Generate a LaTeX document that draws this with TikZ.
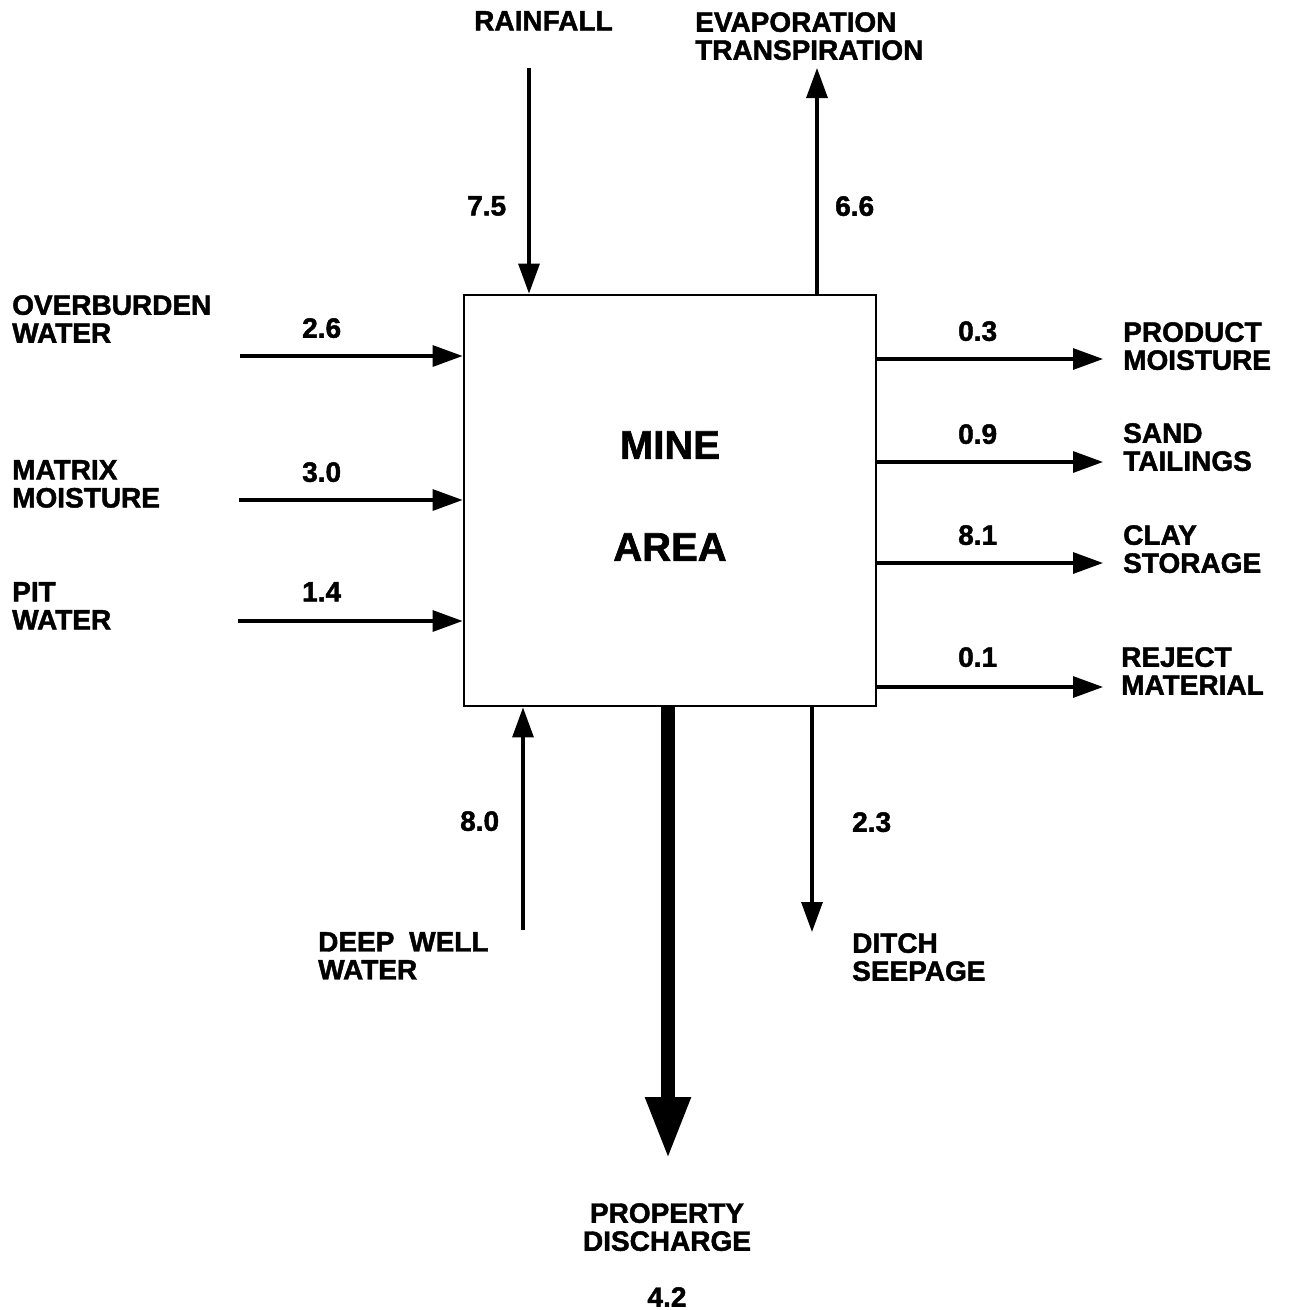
\documentclass[tikz,border=0pt]{standalone}
\usepackage{fontspec}
\setmainfont{Liberation Sans}[BoldFeatures={FakeBold=1.6}]
\usetikzlibrary{arrows.meta}
\tikzset{
  lbl/.style={font=\fontsize{28}{28}\selectfont\bfseries, inner sep=0pt, anchor=north west, align=left},
  num/.style={font=\fontsize{28}{28}\selectfont\bfseries, inner sep=0pt, anchor=north west},
  flow/.style={line width=3.2pt, -{Triangle[length=30pt,width=21pt]}},
  bigflow/.style={line width=14pt, -{Triangle[length=62pt,width=42pt]}},
  minebox/.style={draw, line width=2.8pt, minimum width=412pt, minimum height=411pt, inner sep=0pt}
}
\begin{document}
\begin{tikzpicture}[x=1pt,y=-1pt]
\useasboundingbox[fill=white] (0,0) rectangle (1291,1310);
% central box
\node[minebox] (box) at (670,500.5) {};
\node[font=\fontsize{40}{102}\selectfont\bfseries, align=center, inner sep=0pt] (boxtext) at (670,496) {MINE\\AREA};

% left inflows
\coordinate (obS) at (240,356);
\coordinate (mmS) at (239,500);
\coordinate (pwS) at (238,621);
\draw[flow] (obS) -- (obS -| box.west);
\draw[flow] (mmS) -- (mmS -| box.west);
\draw[flow] (pwS) -- (pwS -| box.west);
\node[lbl] (ob) at (12,295) {OVERBURDEN\\WATER};
\node[lbl] (mm) at (12,460) {MATRIX\\MOISTURE};
\node[lbl] (pw) at (12,582) {PIT\\WATER};
\node[num] (obn) at (302,318) {2.6};
\node[num] (mmn) at (302,462) {3.0};
\node[num] (pwn) at (302,582) {1.4};

% top
\coordinate (rfS) at (529,68);
\coordinate (evE) at (817,68);
\draw[flow] (rfS) -- (rfS |- box.north);
\draw[flow] (evE |- box.north) -- (evE);
\node[lbl] (rf) at (474,11) {RAINFALL};
\node[lbl] (ev) at (695,12) {EVAPORATION\\TRANSPIRATION};
\node[num] (rfn) at (467,196) {7.5};
\node[num] (evn) at (835,196) {6.6};

% right outflows
\coordinate (pmE) at (1103,359);
\coordinate (stE) at (1103,462);
\coordinate (csE) at (1103,563);
\coordinate (rmE) at (1103,687);
\draw[flow] (pmE -| box.east) -- (pmE);
\draw[flow] (stE -| box.east) -- (stE);
\draw[flow] (csE -| box.east) -- (csE);
\draw[flow] (rmE -| box.east) -- (rmE);
\node[num] (pmn) at (958,321) {0.3};
\node[num] (stn) at (958,424) {0.9};
\node[num] (csn) at (958,525) {8.1};
\node[num] (rmn) at (958,647) {0.1};
\node[lbl] (pm) at (1123,322) {PRODUCT\\MOISTURE};
\node[lbl] (st) at (1123,423) {SAND\\TAILINGS};
\node[lbl] (cs) at (1123,525) {CLAY\\STORAGE};
\node[lbl] (rm) at (1121,647) {REJECT\\MATERIAL};

% bottom
\coordinate (dwS) at (523,930);
\coordinate (dsE) at (812,932);
\coordinate (pdE) at (668,1159);
\draw[flow] (dwS) -- (dwS |- box.south);
\draw[flow] (dsE |- box.south) -- (dsE);
\draw[bigflow] (pdE |- box.south) -- (pdE);
\node[num] (dwn) at (460,811) {8.0};
\node[num] (dsn) at (852,812) {2.3};
\node[lbl] (dw) at (318,932) {DEEP\hspace{0.25em} WELL\\WATER};
\node[lbl] (ds) at (852,933) {DITCH\\SEEPAGE};
\node[lbl, anchor=north, align=center] (pd) at (667,1203) {PROPERTY\\DISCHARGE};
\node[num, anchor=north] (pdn) at (667,1287) {4.2};
\end{tikzpicture}
\end{document}
